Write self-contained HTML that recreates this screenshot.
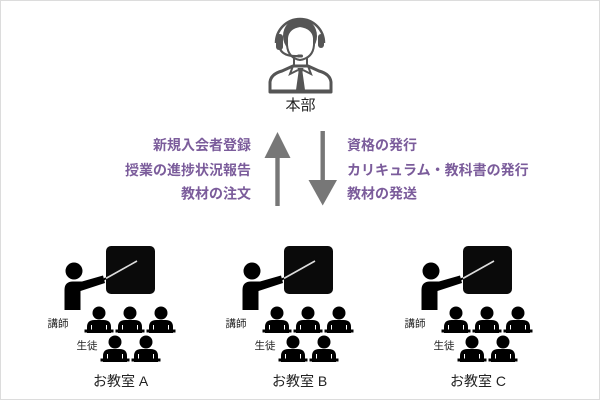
<!DOCTYPE html>
<html>
<head>
<meta charset="utf-8">
<style>
html,body{margin:0;padding:0;background:#fff;}
body{width:600px;height:400px;overflow:hidden;}
svg{display:block;}
text{font-family:"Liberation Sans","Noto Sans CJK JP",sans-serif;}
.p{fill:#7b5c9b;font-weight:bold;font-size:14px;}
.s{fill:#222;font-size:10.5px;}
.c{fill:#222;font-size:14px;}
</style>
</head>
<body>
<svg width="600" height="400" viewBox="0 0 600 400" xmlns="http://www.w3.org/2000/svg">
<defs>
  <g id="stu">
    <circle cx="0" cy="0" r="6.5" fill="#000"/>
    <path d="M-12 20 L-12 14 Q-12 7 -4.5 7 L4.5 7 Q12 7 12 14 L12 20 Z" fill="#000"/>
    <rect x="-14.5" y="16.5" width="29" height="3" fill="#000"/>
    <rect x="-8" y="12" width="1" height="4.5" fill="#fff"/>
    <rect x="7" y="12" width="1" height="4.5" fill="#fff"/>
  </g>
  <g id="room">
    <rect x="106" y="246" width="49" height="48" rx="5" fill="#0a0a0a"/>
    <circle cx="74" cy="271" r="8.5" fill="#000"/>
    <path d="M64.5 310 L64.5 290 Q64.5 281.5 73 281.5 L82 281.5 L103 275.5 L105 283 L80.5 291 L80.5 310 Z" fill="#000"/>
    <line x1="104" y1="279.5" x2="137" y2="261" stroke="#ddd" stroke-width="1.6"/>
    <line x1="102" y1="280.5" x2="106" y2="278.3" stroke="#000" stroke-width="2"/>
    <use href="#stu" x="99" y="313"/>
    <use href="#stu" x="130" y="313"/>
    <use href="#stu" x="161" y="313"/>
    <use href="#stu" x="115" y="342"/>
    <use href="#stu" x="146" y="342"/>
  </g>
</defs>

<rect x="0.5" y="0.5" width="599" height="399" fill="#fff" stroke="#dcdcdc" stroke-width="1"/>

<!-- HQ person -->
<g>
  <path d="M276 43 A24 24 0 0 1 324 43" fill="none" stroke="#555" stroke-width="2.5"/>
  <ellipse cx="300" cy="36" rx="17" ry="18" fill="#555"/>
  <path d="M287 38 Q288 28 300 26 Q313 28 314 38 L314 45 Q313 58 300 60 Q288 58 287 45 Z" fill="#fff" stroke="#555" stroke-width="2"/>
  <rect x="276" y="34" width="7" height="16" rx="3" fill="#555"/>
  <rect x="318" y="34" width="6" height="14" rx="3" fill="#555"/>
  <path d="M280 49 Q284 57 299 56" fill="none" stroke="#555" stroke-width="2.2"/>
  <rect x="297" y="54.5" width="6" height="3" rx="1.5" fill="#555"/>
  <line x1="294" y1="58" x2="294" y2="66" stroke="#555" stroke-width="2"/>
  <line x1="307" y1="58" x2="307" y2="66" stroke="#555" stroke-width="2"/>
  <path d="M270 92 L270 82 Q271 74 282 71 L293 66 L308 66 L319 71 Q330 74 331 82 L331 92 Z" fill="#fff" stroke="#555" stroke-width="3" stroke-linejoin="round"/>
  <path d="M293 66 L290 74 L298 70 M308 66 L311 74 L303 70" fill="none" stroke="#555" stroke-width="2"/>
  <path d="M297.5 68 L303.5 68 L302.5 72 L305 90 L296 90 L298.5 72 Z" fill="#555"/>
  <line x1="269" y1="91" x2="332" y2="91" stroke="#555" stroke-width="3"/>
</g>
<text x="300.5" y="110" text-anchor="middle" style="font-size:15px;fill:#222;">本部</text>

<!-- arrows -->
<rect x="275.3" y="150" width="4.4" height="56" fill="#777"/>
<polygon points="264.5,158 277.5,132 290.5,158" fill="#777"/>
<rect x="320.5" y="131" width="4.4" height="55" fill="#777"/>
<polygon points="308.5,180 322.7,205.5 337,180" fill="#777"/>

<text class="p" x="251" y="150" text-anchor="end">新規入会者登録</text>
<text class="p" x="251" y="175" text-anchor="end">授業の進捗状況報告</text>
<text class="p" x="251" y="198.5" text-anchor="end">教材の注文</text>

<text class="p" x="347" y="150">資格の発行</text>
<text class="p" x="347" y="175">カリキュラム・教科書の発行</text>
<text class="p" x="347" y="198.5">教材の発送</text>

<!-- classrooms -->
<use href="#room" x="0" y="0"/>
<use href="#room" x="178" y="0"/>
<use href="#room" x="357" y="0"/>

<text class="s" x="47.5" y="327">講師</text>
<text class="s" x="76.5" y="349">生徒</text>
<text class="c" x="93" y="386">お教室 A</text>

<text class="s" x="225.5" y="327">講師</text>
<text class="s" x="254.5" y="349">生徒</text>
<text class="c" x="272" y="386">お教室 B</text>

<text class="s" x="404.5" y="327">講師</text>
<text class="s" x="433.5" y="349">生徒</text>
<text class="c" x="450" y="386">お教室 C</text>
</svg>
</body>
</html>
